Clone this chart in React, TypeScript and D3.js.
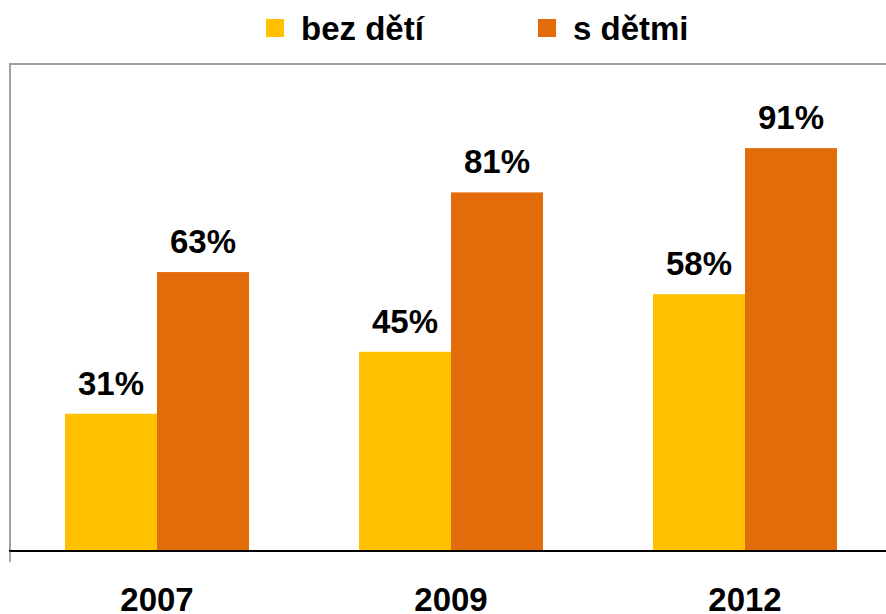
import React, { useEffect, useRef } from 'react';
import * as d3 from 'd3';

const years = ['2007', '2009', '2012'];
const seriesNames = ['bez dětí', 's dětmi'];
const bezDeti = [0.31, 0.45, 0.58];
const sDetmi = [0.63, 0.81, 0.91];
const colors = ['#FFC000', '#E36C0A'];

const W = 886;
const H = 614;
const FONT = '"Liberation Sans", Arial, sans-serif';

export default function App() {
  const ref = useRef<SVGSVGElement>(null);

  useEffect(() => {
    const svg = d3.select(ref.current);
    svg.selectAll('*').remove();

    // plot area runs off the right edge like in the original
    const left = 10, right = 892, top = 64, bottom = 551;

    const x0 = d3.scaleBand().domain(years).range([left, right]).padding(0);
    const x1 = d3.scaleBand().domain(seriesNames).range([55, x0.bandwidth() - 55]).padding(0);
    const y = d3.scaleLinear().domain([0, 1.1]).range([bottom, top]);

    // frame
    svg.append('line')
      .attr('x1', left).attr('x2', W).attr('y1', top).attr('y2', top)
      .attr('stroke', '#a0a0a0').attr('stroke-width', 2);
    svg.append('line')
      .attr('x1', left).attr('x2', left).attr('y1', top - 1).attr('y2', bottom)
      .attr('stroke', '#a0a0a0').attr('stroke-width', 2);

    const rows = years.map((yr, i) => ({ year: yr, values: [bezDeti[i], sDetmi[i]] }));

    const group = svg.selectAll('.grp')
      .data(rows)
      .enter().append('g')
      .attr('class', 'grp')
      .attr('transform', d => 'translate(' + x0(d.year) + ',0)');

    group.selectAll('rect')
      .data(d => d.values.map((v, j) => ({ v, name: seriesNames[j], j })))
      .enter().append('rect')
      .attr('x', d => x1(d.name)!)
      .attr('width', x1.bandwidth())
      .attr('y', d => y(d.v))
      .attr('height', d => bottom - y(d.v))
      .attr('fill', d => colors[d.j]);

    group.selectAll('text.val')
      .data(d => d.values.map((v, j) => ({ v, name: seriesNames[j] })))
      .enter().append('text')
      .attr('class', 'val')
      .attr('x', d => x1(d.name)! + x1.bandwidth() / 2)
      .attr('y', d => y(d.v) - 19)
      .attr('text-anchor', 'middle')
      .style('font-family', FONT)
      .style('font-weight', 'bold')
      .style('font-size', '33px')
      .text(d => Math.round(d.v * 100) + '%');

    // x axis
    const xAxis = d3.axisBottom(x0).tickSize(0).tickPadding(0);
    const ax = svg.append('g')
      .attr('transform', 'translate(0,' + bottom + ')')
      .call(xAxis);
    ax.select('.domain').remove();
    ax.selectAll('text')
      .attr('y', 60)
      .attr('dy', 0)
      .style('font-family', FONT)
      .style('font-weight', 'bold')
      .style('font-size', '33px')
      .attr('fill', '#000');
    svg.append('line')
      .attr('x1', left - 1).attr('x2', W).attr('y1', bottom).attr('y2', bottom)
      .attr('stroke', '#000').attr('stroke-width', 2);
    svg.append('line')
      .attr('x1', left).attr('x2', left).attr('y1', bottom).attr('y2', bottom + 11)
      .attr('stroke', '#555').attr('stroke-width', 1);

    // legend
    const legendX = [266, 538];
    const leg = svg.selectAll('.leg')
      .data(seriesNames)
      .enter().append('g')
      .attr('class', 'leg')
      .attr('transform', (d, i) => 'translate(' + legendX[i] + ',0)');
    leg.append('rect')
      .attr('x', 0).attr('y', 19).attr('width', 18).attr('height', 18)
      .attr('fill', (d, i) => colors[i]);
    leg.append('text')
      .attr('x', 35).attr('y', 40)
      .style('font-family', FONT)
      .style('font-weight', 'bold')
      .style('font-size', '33px')
      .text(d => d);
  }, []);

  return (
    <svg ref={ref} width={W} height={H}
      style={{ position: 'absolute', left: 0, top: 0, background: '#fff' }} />
  );
}
